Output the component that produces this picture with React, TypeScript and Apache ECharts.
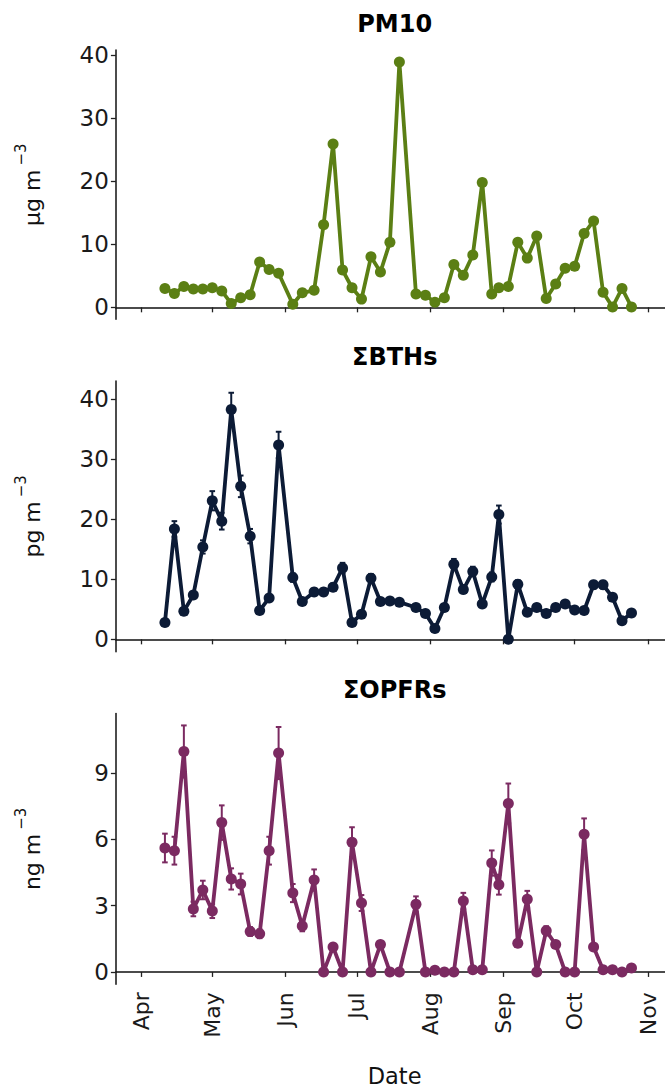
import React, { useEffect, useRef } from "react";
import * as echarts from "echarts";

const sampleDates = [
  "2019-04-11", "2019-04-15", "2019-04-19", "2019-04-23", "2019-04-27", "2019-05-01", "2019-05-05",
  "2019-05-09", "2019-05-13", "2019-05-17", "2019-05-21", "2019-05-25", "2019-05-29", "2019-06-04",
  "2019-06-08", "2019-06-13", "2019-06-17", "2019-06-21", "2019-06-25", "2019-06-29", "2019-07-03",
  "2019-07-07", "2019-07-11", "2019-07-15", "2019-07-19", "2019-07-26", "2019-07-30", "2019-08-03",
  "2019-08-07", "2019-08-11", "2019-08-15", "2019-08-19", "2019-08-23", "2019-08-27", "2019-08-30",
  "2019-09-03", "2019-09-07", "2019-09-11", "2019-09-15", "2019-09-19", "2019-09-23", "2019-09-27",
  "2019-10-01", "2019-10-05", "2019-10-09", "2019-10-13", "2019-10-17", "2019-10-21", "2019-10-25",
];

const pm10 = [
  3.0, 2.2, 3.3, 2.9, 2.9, 3.1, 2.6, 0.6, 1.5, 2.0, 7.2, 6.0, 5.4, 0.5, 2.3, 2.7, 13.1, 25.9, 5.9, 3.1,
  1.3, 8.0, 5.6, 10.3, 38.9, 2.1, 1.9, 0.8, 1.5, 6.8, 5.1, 8.3, 19.8, 2.1, 3.1, 3.3, 10.3, 7.8, 11.3,
  1.4, 3.7, 6.2, 6.5, 11.7, 13.7, 2.4, 0.05, 3.0, 0.05,
];

const bths = [
  2.8, 18.4, 4.7, 7.4, 15.4, 23.1, 19.7, 38.3, 25.5, 17.2, 4.8, 6.9, 32.4, 10.3, 6.3, 7.9, 7.9, 8.7,
  11.9, 2.8, 4.2, 10.2, 6.3, 6.4, 6.2, 5.3, 4.3, 1.8, 5.3, 12.5, 8.3, 11.3, 5.9, 10.4, 20.8, 0, 9.2,
  4.5, 5.3, 4.3, 5.3, 5.9, 4.9, 4.8, 9.1, 9.1, 7.0, 3.1, 4.4,
];
const bthsErr = [
  0.2, 1.3, 0.35, 0.5, 1.1, 1.6, 1.4, 2.8, 1.8, 1.2, 0.35, 0.5, 2.2, 0.7, 0.45, 0.55, 0.55, 0.6,
  0.85, 0.2, 0.3, 0.7, 0.45, 0.45, 0.45, 0.4, 0.3, 0.15, 0.4, 0.9, 0.6, 0.8, 0.4, 0.75, 1.5, 0, 0.65,
  0.3, 0.4, 0.3, 0.4, 0.4, 0.35, 0.35, 0.65, 0.65, 0.5, 0.2, 0.3,
];

const opfrs = [
  5.61, 5.49, 9.98, 2.85, 3.71, 2.76, 6.76, 4.21, 3.98, 1.83, 1.73, 5.49, 9.91, 3.57, 2.08, 4.16, 0,
  1.13, 0, 5.87, 3.12, 0, 1.24, 0, 0, 3.06, 0, 0.08, 0, 0, 3.21, 0.1, 0.1, 4.93, 3.95, 7.63, 1.3,
  3.29, 0, 1.86, 1.24, 0, 0, 6.23, 1.13, 0.1, 0.1, 0, 0.18,
];
const opfrsErr = [
  0.65, 0.63, 1.18, 0.33, 0.42, 0.32, 0.78, 0.48, 0.47, 0.2, 0.2, 0.63, 1.18, 0.41, 0.24, 0.48, 0,
  0.13, 0, 0.68, 0.36, 0, 0.14, 0, 0, 0.36, 0, 0.01, 0, 0, 0.37, 0.01, 0.01, 0.57, 0.45, 0.9, 0.15,
  0.38, 0, 0.21, 0.14, 0, 0, 0.72, 0.13, 0.01, 0.01, 0, 0.02,
];

const monthStarts = [
  "2019-04-01", "2019-05-01", "2019-06-01", "2019-07-01", "2019-08-01", "2019-09-01", "2019-10-01", "2019-11-01",
];
const monthLabels = ["Apr", "May", "Jun", "Jul", "Aug", "Sep", "Oct", "Nov"];

const panelTitles = ["PM10", "\u03A3BTHs", "\u03A3OPFRs"];
const yUnits = ["\u03BCg m", "pg m", "ng m"];
const yUnitExp = "\u22123";
const yTicks = [
  [0, 10, 20, 30, 40],
  [0, 10, 20, 30, 40],
  [0, 3, 6, 9],
];

const FONT = "DejaVu Sans";
const DAY = 86400000;

export default function App() {
  const ref = useRef<HTMLDivElement>(null);

  useEffect(() => {
    document.body.style.margin = "0";
    if (!ref.current) return;
    const chart = echarts.init(ref.current, undefined, { renderer: "svg" });

    const t = sampleDates.map((d) => Date.parse(d));
    const tickVals = monthStarts.map((d) => Date.parse(d));
    const xMin = tickVals[0] - 10.7 * DAY;
    const xMax = tickVals[tickVals.length - 1] + 10.7 * DAY;

    const colors = ["#5b7f14", "#0c1b36", "#7b2a61"];
    const grids = [
      { top: 50, height: 269.3 },
      { top: 381, height: 270.7 },
      { top: 713.5, height: 270.8 },
    ];
    const yRanges = [
      [-1.9, 40.8],
      [-2.06, 43.06],
      [-0.56, 11.7],
    ];
    const values = [pm10, bths, opfrs];
    const errs = [null, bthsErr, opfrsErr];

    const axisLine = { show: true, lineStyle: { color: "#111", width: 1.5 } };
    const tickStyle = { color: "#222", width: 1.3 };

    const xAxis = grids.map((_, i) => ({
      type: "value",
      gridIndex: i,
      min: xMin,
      max: xMax,
      axisLine,
      axisTick: { show: true, length: 5, customValues: tickVals, lineStyle: tickStyle },
      axisLabel: {
        show: i === 2,
        customValues: tickVals,
        formatter: (v: number) => {
          const k = tickVals.indexOf(v);
          return k >= 0 ? monthLabels[k] : "";
        },
        rotate: 90,
        fontSize: 22,
        fontFamily: FONT,
        color: "#1a1a1a",
        margin: 8,
      },
      splitLine: { show: false },
      name: i === 2 ? "Date" : "",
      nameLocation: "middle",
      nameGap: 80,
      nameTextStyle: { fontSize: 22.5, fontFamily: FONT, color: "#111" },
    }));

    const yAxis = grids.map((_, i) => ({
      type: "value",
      gridIndex: i,
      min: yRanges[i][0],
      max: yRanges[i][1],
      axisLine,
      axisTick: { show: true, length: 5, customValues: yTicks[i], lineStyle: tickStyle },
      axisLabel: {
        customValues: yTicks[i],
        fontSize: 23,
        fontFamily: FONT,
        color: "#1a1a1a",
        margin: 7,
      },
      splitLine: { show: false },
      name: "{a|" + yUnits[i] + "}{b|" + yUnitExp + "}",
      nameLocation: "middle",
      nameRotate: 90,
      nameGap: 72,
      nameTextStyle: {
        fontSize: 22,
        fontFamily: FONT,
        color: "#111",
        rich: {
          a: { fontSize: 22, fontFamily: FONT, color: "#111", lineHeight: 26, verticalAlign: "bottom" },
          b: {
            fontSize: 15,
            fontFamily: FONT,
            color: "#111",
            lineHeight: 15,
            verticalAlign: "bottom",
            padding: [0, 0, 15, 4],
          },
        },
      },
    }));

    const series: any[] = [];
    values.forEach((vals, i) => {
      const e = errs[i];
      if (e) {
        series.push({
          type: "custom",
          xAxisIndex: i,
          yAxisIndex: i,
          z: 1,
          data: vals.map((v, k) => [t[k], v - e[k], v + e[k]]),
          encode: { x: 0, y: [1, 2] },
          renderItem: (params: any, api: any) => {
            const x = api.value(0);
            const lo = api.coord([x, api.value(1)]);
            const hi = api.coord([x, api.value(2)]);
            const w = 2.8;
            const style = { stroke: colors[i], lineWidth: 2 };
            return {
              type: "group",
              children: [
                { type: "line", shape: { x1: hi[0], y1: hi[1], x2: lo[0], y2: lo[1] }, style },
                { type: "line", shape: { x1: hi[0] - w, y1: hi[1], x2: hi[0] + w, y2: hi[1] }, style },
                { type: "line", shape: { x1: lo[0] - w, y1: lo[1], x2: lo[0] + w, y2: lo[1] }, style },
              ],
            };
          },
        });
      }
      series.push({
        type: "line",
        xAxisIndex: i,
        yAxisIndex: i,
        z: 2,
        data: vals.map((v, k) => [t[k], v]),
        symbol: "circle",
        symbolSize: 11,
        showSymbol: true,
        lineStyle: { color: colors[i], width: 3.8 },
        itemStyle: { color: colors[i] },
      });
    });

    const titleY = [24, 356.5, 690];
    const graphic = panelTitles.map((txt, i) => ({
      type: "text",
      x: 394.7,
      y: titleY[i],
      style: {
        text: txt,
        align: "center",
        verticalAlign: "middle",
        fontSize: 24,
        fontWeight: "bold",
        fontFamily: FONT,
        fill: "#000",
      },
    }));

    chart.setOption({
      animation: false,
      backgroundColor: "#fff",
      grid: grids.map((g) => ({
        left: 115.9,
        width: 557.5,
        top: g.top,
        height: g.height,
        containLabel: false,
        outerBoundsMode: "none",
      })),
      xAxis,
      yAxis,
      series,
      graphic,
    });

    return () => chart.dispose();
  }, []);

  return <div ref={ref} style={{ position: "fixed", left: 0, top: 0, width: 665, height: 1091 }} />;
}
